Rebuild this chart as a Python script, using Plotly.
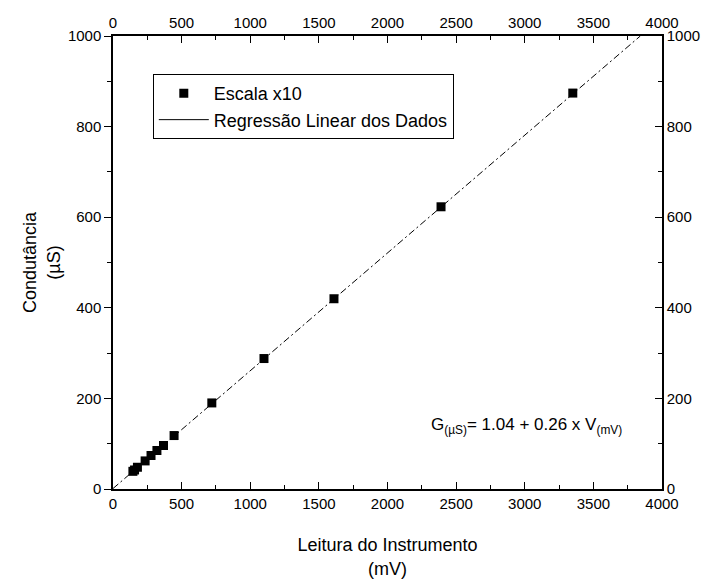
import plotly.graph_objects as go

# Data
leitura_mv = [3350, 2390, 1610, 1100, 720, 445, 368, 320, 277, 234, 178, 157, 145]
condutancia_us = [874, 623, 420, 288, 190, 118, 96, 85, 74, 62, 48, 42, 39]

# Regression line endpoints (G = 1.04 + 0.26 V)
reg_x = [0, 3842]
reg_y = [1.04, 1000]

x_ticks = [0, 500, 1000, 1500, 2000, 2500, 3000, 3500, 4000]
y_ticks = [0, 200, 400, 600, 800, 1000]

FONT = "Liberation Sans, Arial, sans-serif"

fig = go.Figure()

fig.add_trace(go.Scatter(
    x=leitura_mv, y=condutancia_us, mode="markers",
    marker=dict(symbol="square", size=9, color="black"),
    name="Escala x10"))

fig.add_trace(go.Scatter(
    x=reg_x, y=reg_y, mode="lines",
    line=dict(color="black", width=1, dash="7px,3px,2px,3px"),
    showlegend=False, name="Regressão Linear dos Dados"))

# legend entry with solid line
fig.add_trace(go.Scatter(
    x=[None], y=[None], mode="lines",
    line=dict(color="black", width=1),
    name="Regressão Linear dos Dados"))

# invisible trace to activate top/right axes
fig.add_trace(go.Scatter(
    x=[0], y=[0], xaxis="x2", yaxis="y2", mode="markers",
    marker=dict(opacity=0), showlegend=False, hoverinfo="skip"))

axis_common = dict(showgrid=False, zeroline=False, showline=True,
                   linecolor="black", linewidth=1.5,
                   tickcolor="black", tickfont=dict(family=FONT, size=15, color="black"))

fig.update_layout(
    width=712, height=588,
    margin=dict(l=113, r=47, t=36, b=99),
    paper_bgcolor="white", plot_bgcolor="white",
    font=dict(family=FONT, color="black"),
    xaxis=dict(range=[0, 4000], tickvals=x_ticks, ticks="inside", ticklen=7,
               minor=dict(dtick=250, ticks="inside", ticklen=4, tickcolor="black"),
               title=dict(text="Leitura do Instrumento<br>(mV)",
                          font=dict(family=FONT, size=18), standoff=28),
               **axis_common),
    xaxis2=dict(range=[0, 4000], tickvals=x_ticks, overlaying="x", side="top",
                ticks="inside", ticklen=7,
                minor=dict(dtick=250, ticks="inside", ticklen=4, tickcolor="black"),
                **axis_common),
    yaxis=dict(range=[0, 1000], tickvals=y_ticks, ticks="outside", ticklen=7,
               minor=dict(dtick=100, ticks="outside", ticklen=4, tickcolor="black"),
               title=dict(text="Condutância<br>(µS)",
                          font=dict(family=FONT, size=18), standoff=3),
               **axis_common),
    yaxis2=dict(range=[0, 1000], tickvals=y_ticks, overlaying="y", side="right",
                ticks="inside", ticklen=7,
                minor=dict(dtick=100, ticks="inside", ticklen=4, tickcolor="black"),
                **axis_common),
    legend=dict(x=0.0725, y=0.916, xanchor="left", yanchor="top",
                bordercolor="black", borderwidth=1, bgcolor="white",
                font=dict(family=FONT, size=18, color="black"),
                itemwidth=50, tracegroupgap=0),
    showlegend=True,
    annotations=[dict(
        x=3725, y=140, xref="x", yref="y", xanchor="right", yanchor="middle",
        text="G<sub>(µS)</sub>= 1.04 + 0.26 x V<sub>(mV)</sub>",
        showarrow=False, font=dict(family=FONT, size=17, color="black"))],
)

fig.write_html("out.html")
